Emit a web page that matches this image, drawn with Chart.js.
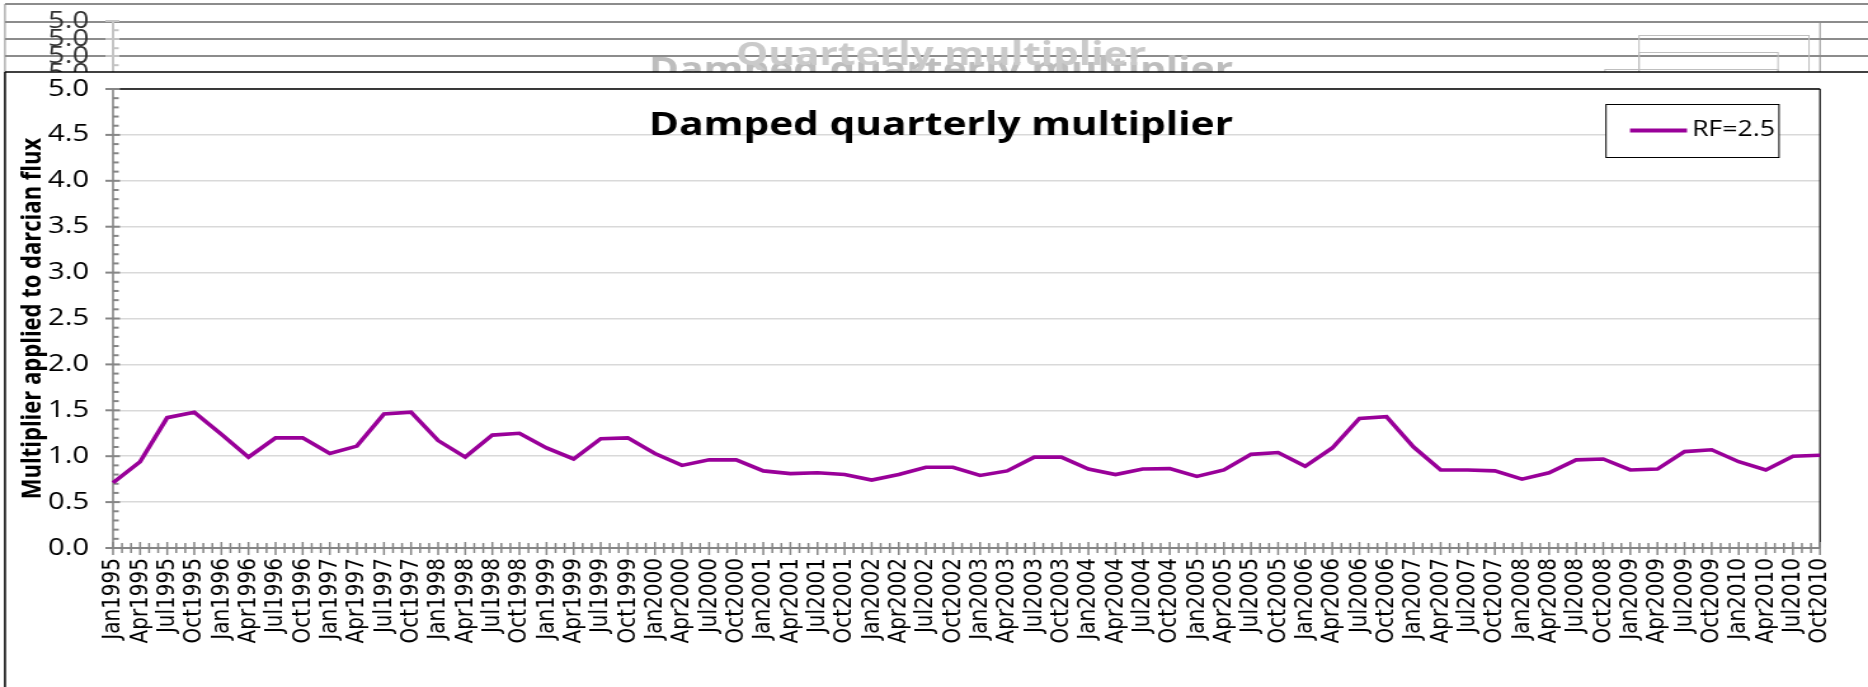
<!DOCTYPE html>
<html>
<head>
<meta charset="utf-8">
<title>Damped quarterly multiplier</title>
<script src="https://cdn.jsdelivr.net/npm/chart.js@4.4.1/dist/chart.umd.min.js"></script>
<style>
  html, body { margin: 0; padding: 0; background: #fff; overflow: hidden; }
  #wrap { position: relative; width: 1868px; height: 687px; overflow: hidden; }
  /* the source picture is stretched sideways, so the chart is drawn narrower and scaled */
  #chart { position: absolute; left: 0; top: 0; transform-origin: 0 0; }
</style>
</head>
<body>
<div id="wrap"><canvas id="chart" width="1471" height="687"></canvas></div>
<script>
// quarterly categories, Jan1995 .. Oct2010
const quarterLabels = [
  'Jan1995','Apr1995','Jul1995','Oct1995','Jan1996','Apr1996','Jul1996','Oct1996',
  'Jan1997','Apr1997','Jul1997','Oct1997','Jan1998','Apr1998','Jul1998','Oct1998',
  'Jan1999','Apr1999','Jul1999','Oct1999','Jan2000','Apr2000','Jul2000','Oct2000',
  'Jan2001','Apr2001','Jul2001','Oct2001','Jan2002','Apr2002','Jul2002','Oct2002',
  'Jan2003','Apr2003','Jul2003','Oct2003','Jan2004','Apr2004','Jul2004','Oct2004',
  'Jan2005','Apr2005','Jul2005','Oct2005','Jan2006','Apr2006','Jul2006','Oct2006',
  'Jan2007','Apr2007','Jul2007','Oct2007','Jan2008','Apr2008','Jul2008','Oct2008',
  'Jan2009','Apr2009','Jul2009','Oct2009','Jan2010','Apr2010','Jul2010','Oct2010'
];

// RF=2.5 series
const rf25 = [
  0.71, 0.94, 1.42, 1.48,   1.24, 0.99, 1.20, 1.20,
  1.03, 1.11, 1.46, 1.48,   1.17, 0.99, 1.23, 1.25,
  1.09, 0.97, 1.19, 1.20,   1.03, 0.90, 0.96, 0.96,
  0.84, 0.81, 0.82, 0.80,   0.74, 0.80, 0.88, 0.88,
  0.79, 0.84, 0.99, 0.99,   0.86, 0.80, 0.86, 0.865,
  0.78, 0.85, 1.02, 1.04,   0.89, 1.09, 1.41, 1.43,
  1.10, 0.85, 0.85, 0.84,   0.75, 0.82, 0.96, 0.97,
  0.85, 0.86, 1.05, 1.07,   0.94, 0.85, 1.00, 1.01
];

const seriesName = 'RF=2.5';
const chartTitle = 'Damped quarterly multiplier';
const yTitle = 'Multiplier applied to darcian flux';
const yMin = 0, yMax = 5, yStep = 0.5, yMinorStep = 0.1;

// titles of the older charts that show through at the top
const ghostTitles = ['Damped quarterly multiplier', 'Quarterly multiplier'];

const LINE_COLOR = '#990099';
const AXIS_COLOR = '#868686';
const GRID_COLOR = '#d9d9d9';

const canvas = document.getElementById('chart');
const S = 1868 / canvas.width;           // sideways stretch
canvas.style.transform = `scaleX(${S})`;
const fx = v => v / S;                   // page x -> canvas x

function line(ctx, x1, y1, x2, y2) {
  ctx.beginPath();
  ctx.moveTo(x1, y1);
  ctx.lineTo(x2, y2);
  ctx.stroke();
}

const decor = {
  id: 'decor',
  beforeDraw(chart) {
    const ctx = chart.ctx;
    const W = chart.width, H = chart.height;
    const area = chart.chartArea;
    ctx.save();

    // stacked chart frames behind the main one
    const tops = [4, 22, 39, 56];
    ctx.strokeStyle = '#8c8c8c';
    ctx.lineWidth = 2;
    tops.forEach(t => line(ctx, fx(5), t, W, t));
    ctx.lineWidth = 1;
    line(ctx, fx(5), 4, fx(5), 72);
    line(ctx, area.right, 22, area.right, 72);

    // ghost titles
    ctx.font = 'bold 32px "Open Sans"';
    ctx.textAlign = 'center';
    ctx.textBaseline = 'alphabetic';
    ctx.fillStyle = '#bdbdbd';
    ctx.fillText(ghostTitles[0], fx(941), 80);
    ctx.fillStyle = '#cacaca';
    ctx.fillText(ghostTitles[1], fx(941), 65);

    // ghost legend boxes
    ctx.strokeStyle = '#bfbfbf';
    ctx.lineWidth = 1;
    ctx.strokeRect(fx(1639), 35.5, fx(170), 60);
    ctx.strokeRect(fx(1639), 52.5, fx(139), 60);
    ctx.strokeRect(fx(1605), 69.5, fx(173), 60);

    // ghost y-axis stubs and 5.0 labels
    ctx.font = '23px "Open Sans"';
    ctx.textAlign = 'right';
    ctx.textBaseline = 'middle';
    tops.forEach(t => {
      const y = t + 17;
      ctx.strokeStyle = '#c4c4c4';
      ctx.lineWidth = 2;
      line(ctx, area.left, y, area.left, y + 17);
      line(ctx, area.left - 6, y, area.left + 5, y);
      line(ctx, area.left, y + 9.2, area.left + 4.5, y + 9.2);
      ctx.fillStyle = '#333';
      ctx.fillText(yMax.toFixed(1), fx(89), y);
    });

    // main frame, opaque white
    ctx.fillStyle = '#fff';
    ctx.fillRect(fx(5), 72, W, H);
    ctx.strokeStyle = '#000';
    ctx.lineWidth = 1.5;
    line(ctx, fx(5), 72, W, 72);
    line(ctx, fx(5), 72, fx(5), H);
    ctx.restore();
  },
  beforeDatasetsDraw(chart) {
    const ctx = chart.ctx;
    const area = chart.chartArea;
    const xs = chart.scales.x, ys = chart.scales.y;
    ctx.save();

    // plot border top and right
    ctx.strokeStyle = '#000';
    ctx.lineWidth = 1.5;
    line(ctx, area.left, area.top, area.right, area.top);
    ctx.lineWidth = 1.2;
    line(ctx, area.right, area.top, area.right, area.bottom);

    // axes
    ctx.strokeStyle = AXIS_COLOR;
    ctx.lineWidth = 2;
    line(ctx, area.left, area.bottom, area.right, area.bottom);
    ctx.lineWidth = 1.6;
    line(ctx, area.left, area.top, area.left, area.bottom);

    // y ticks: major cross, minor inside
    ctx.lineWidth = 2;
    const nMinor = Math.round((yMax - yMin) / yMinorStep);
    for (let i = 0; i <= nMinor; i++) {
      const y = ys.getPixelForValue(yMin + i * yMinorStep);
      if (i % 5 === 0) line(ctx, area.left - 6, y, area.left + 5.5, y);
      else line(ctx, area.left, y, area.left + 4.5, y);
    }

    // x ticks: quarter majors, monthly minors
    ctx.lineWidth = 1.5;
    for (let i = 0; i < quarterLabels.length; i++) {
      const x = xs.getPixelForValue(i);
      line(ctx, x, area.bottom - 6, x, area.bottom + 7);
      if (i < quarterLabels.length - 1) {
        const nx = xs.getPixelForValue(i + 1);
        for (let k = 1; k < 3; k++) {
          const mx = x + (nx - x) * k / 3;
          line(ctx, mx, area.bottom - 5, mx, area.bottom + 5);
        }
      }
    }
    ctx.restore();
  },
  afterDraw(chart) {
    const ctx = chart.ctx;
    ctx.save();

    // chart title
    ctx.fillStyle = '#000';
    ctx.font = 'bold 32px "Open Sans"';
    ctx.textAlign = 'center';
    ctx.textBaseline = 'alphabetic';
    ctx.fillText(chartTitle, fx(941), 135);

    // legend
    const bx = fx(1606), by = 104, bw = fx(173), bh = 53;
    ctx.fillStyle = '#fff';
    ctx.fillRect(bx, by, bw, bh);
    ctx.strokeStyle = '#000';
    ctx.lineWidth = 1;
    ctx.strokeRect(bx, by + 0.5, bw, bh);
    ctx.strokeStyle = LINE_COLOR;
    ctx.lineWidth = 4;
    line(ctx, fx(1630), by + bh / 2, fx(1687), by + bh / 2);
    ctx.fillStyle = '#000';
    ctx.font = '21px "Open Sans"';
    ctx.textAlign = 'left';
    ctx.textBaseline = 'middle';
    ctx.fillText(seriesName, fx(1692), by + bh / 2);
    ctx.restore();
  }
};

new Chart(canvas.getContext('2d'), {
  type: 'line',
  data: {
    labels: quarterLabels,
    datasets: [{
      label: seriesName,
      data: rf25,
      borderColor: LINE_COLOR,
      backgroundColor: LINE_COLOR,
      borderWidth: 3.6,
      pointRadius: 0,
      tension: 0,
      fill: false
    }]
  },
  options: {
    responsive: false,
    animation: false,
    layout: { padding: { left: 13, top: 89, right: canvas.width - fx(1820), bottom: 0 } },
    scales: {
      x: {
        offset: false,
        grid: { display: false, drawTicks: false },
        border: { display: false },
        ticks: {
          autoSkip: false,
          minRotation: 90,
          maxRotation: 90,
          padding: 10,
          color: '#000',
          font: { family: 'DejaVu Sans', size: 20 }
        },
        afterFit: s => { s.height = 139; }
      },
      y: {
        min: yMin,
        max: yMax,
        grid: { color: GRID_COLOR, lineWidth: 1.5, drawTicks: false },
        border: { display: false },
        ticks: {
          stepSize: yStep,
          padding: fx(113) - fx(89),
          color: '#000',
          font: { family: 'Open Sans', size: 23 },
          callback: v => Number(v).toFixed(1)
        },
        title: {
          display: true,
          text: yTitle,
          color: '#000',
          padding: 0,
          font: { family: 'Open Sans', size: 22, weight: 'bold' }
        },
        afterFit: s => { s.width = fx(113) - 13; }
      }
    },
    plugins: {
      legend: { display: false },
      title: { display: false },
      tooltip: { enabled: false }
    }
  },
  plugins: [decor]
});
</script>
</body>
</html>
